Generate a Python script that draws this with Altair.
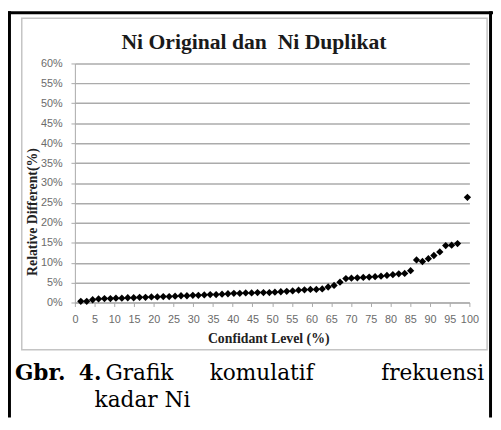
import altair as alt
import pandas as pd

# ---- data ----
confidence_level = [1.5, 3.0, 4.5, 6.0, 7.5, 9.0, 10.4, 11.9, 13.4, 14.9, 16.4, 17.9, 19.4,
                    20.9, 22.4, 23.9, 25.4, 26.9, 28.4, 29.9, 31.3, 32.8, 34.3, 35.8, 37.3,
                    38.8, 40.3, 41.8, 43.3, 44.8, 46.3, 47.8, 49.3, 50.7, 52.2, 53.7, 55.2,
                    56.7, 58.2, 59.7, 61.2, 62.7, 64.2, 65.7, 67.2, 68.7, 70.1, 71.6, 73.1,
                    74.6, 76.1, 77.6, 79.1, 80.6, 82.1, 83.6, 85.1, 86.6, 88.1, 89.6, 91.0,
                    92.5, 94.0, 95.5, 97.0, 99.5]
relative_diff = [0.3, 0.3, 0.7, 0.9, 1.0, 1.0, 1.1, 1.1, 1.2, 1.2, 1.3, 1.3, 1.4,
                 1.4, 1.5, 1.5, 1.6, 1.7, 1.7, 1.8, 1.8, 1.9, 2.0, 2.0, 2.1,
                 2.2, 2.3, 2.3, 2.4, 2.4, 2.5, 2.5, 2.5, 2.6, 2.7, 2.8, 2.9,
                 3.1, 3.2, 3.3, 3.3, 3.4, 3.9, 4.3, 5.1, 6.0, 6.1, 6.2, 6.3,
                 6.4, 6.5, 6.6, 6.8, 7.0, 7.2, 7.3, 8.0, 10.7, 10.3, 11.0, 11.8,
                 12.7, 14.3, 14.4, 14.8, 26.4]
x_ticks = list(range(0, 101, 5))
y_ticks = list(range(0, 61, 5))

chart_title = "Ni Original dan\u00a0 Ni Duplikat"
x_title = "Confidant Level (%)"
y_title = "Relative Different(%)"

df = pd.DataFrame({"level": confidence_level, "diff": relative_diff})
one = pd.DataFrame({"a": [0]})

W, H = 401, 243

def txt(text, x, y, **kw):
    return alt.Chart(one).mark_text(text=text, **kw).encode(x=alt.value(x), y=alt.value(y))

# chart box (light gray frame)
box = alt.Chart(one).mark_rect(fillOpacity=0, stroke="#c4c4c4", strokeWidth=1.5).encode(
    x=alt.value(-54), x2=alt.value(419), y=alt.value(-46), y2=alt.value(291))

# outer black frame
frame_left = alt.Chart(one).mark_rule(color="black", strokeWidth=3).encode(
    x=alt.value(-66.5), y=alt.value(-53), y2=alt.value(360))
frame_top = alt.Chart(one).mark_rule(color="black", strokeWidth=3).encode(
    x=alt.value(-68), x2=alt.value(425), y=alt.value(-51.5))
frame_right = alt.Chart(one).mark_rule(color="black", strokeWidth=3).encode(
    x=alt.value(422.5), y=alt.value(-53), y2=alt.value(360))

points = alt.Chart(df).mark_point(shape="diamond", filled=True, color="black",
                                  size=55, opacity=1).encode(
    x=alt.X("level:Q", scale=alt.Scale(domain=[0, 100], nice=False),
            axis=alt.Axis(values=x_ticks, title=None, grid=False, tickSize=4,
                          labelPadding=7, labelFont="Liberation Sans", labelFontSize=11,
                          labelColor="#6b6b6b", domainColor="#a8a8a8", tickColor="#a8a8a8",
                          labelFlush=False, zindex=0)),
    y=alt.Y("diff:Q", scale=alt.Scale(domain=[0, 60], nice=False),
            axis=alt.Axis(values=y_ticks, title=None, grid=True, gridColor="#ababab",
                          gridWidth=1.5, tickSize=4, labelPadding=9,
                          labelExpr="datum.value + '%'", labelFont="Liberation Sans",
                          labelFontSize=11, labelColor="#6b6b6b", domainColor="#a8a8a8",
                          tickColor="#a8a8a8", zindex=0)),
)

title_t = txt(chart_title, 182, -22, font="Liberation Serif", fontSize=22, fontWeight="bold",
              align="center", baseline="middle", color="#1a1a1a")
xt = txt(x_title, 197, 280, font="Liberation Serif", fontSize=14, fontWeight="bold",
         align="center", baseline="middle", color="#222222")
yt = txt(y_title, -43, 151, font="Liberation Serif", fontSize=14, fontWeight="bold",
         align="center", baseline="middle", angle=270, color="#222222")

cap_font = dict(font="DejaVu Serif", fontSize=22, baseline="alphabetic", color="black")
cap = [
    txt("Gbr.", -61, 322, align="left", fontWeight="bold", **cap_font),
    txt("4.", 4, 322, align="left", fontWeight="bold", **cap_font),
    txt("Grafik", 31, 322, align="left", **cap_font),
    txt("komulatif", 137, 322, align="left", **cap_font),
    txt("frekuensi", 416, 322, align="right", **cap_font),
    txt("kadar Ni", 20, 349, align="left", **cap_font),
]

chart = alt.layer(points, box, frame_left, frame_top, frame_right, title_t, xt, yt, *cap).properties(
    width=W, height=H,
    autosize=alt.AutoSizeParams(type="none"),
    padding={"left": 68, "top": 53, "right": 24, "bottom": 114},
    background="white",
).configure_view(stroke=None)

chart.save("out.html", embed_options={"renderer": "svg", "actions": False})
